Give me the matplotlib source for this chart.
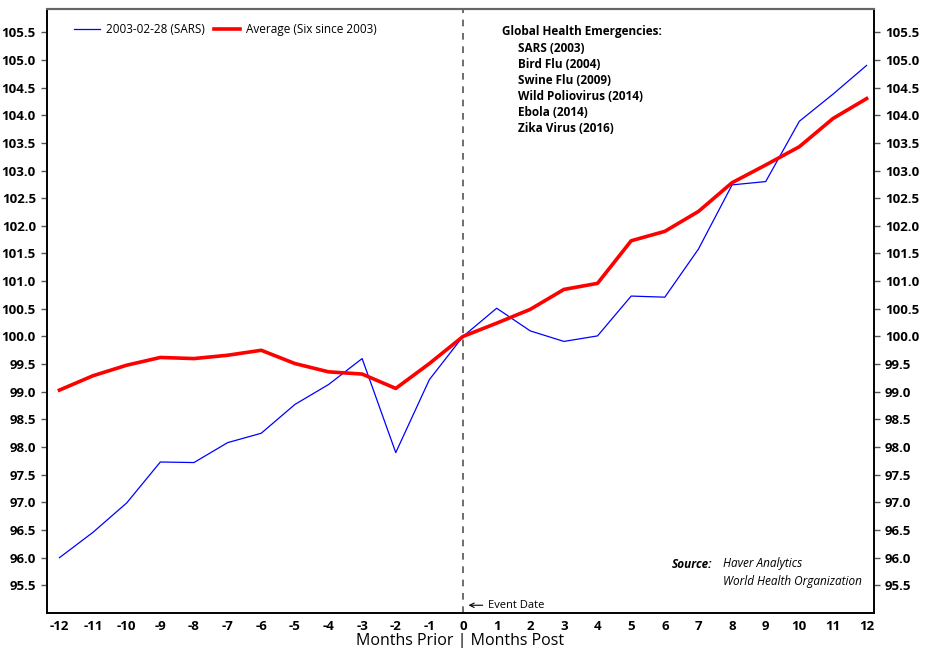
import matplotlib
matplotlib.use("Agg")
import matplotlib.pyplot as plt

plt.rcParams["font.family"] = ["Open Sans", "DejaVu Sans"]
plt.rcParams["axes.unicode_minus"] = False

MONTHS = list(range(-12, 13))
SARS = [96.00, 96.46, 96.99, 97.73, 97.72, 98.08, 98.25, 98.77, 99.13, 99.60, 97.90, 99.22,
        100.00, 100.51, 100.10, 99.91, 100.01, 100.73, 100.71, 101.58, 102.74, 102.80,
        103.89, 104.38, 104.90]
AVERAGE = [99.03, 99.29, 99.48, 99.62, 99.60, 99.66, 99.75, 99.51, 99.36, 99.32, 99.06, 99.51,
           100.00, 100.24, 100.49, 100.85, 100.96, 101.73, 101.90, 102.26, 102.78, 103.10,
           103.43, 103.94, 104.30]
YTICKS = [95.5 + 0.5 * i for i in range(21)]
EMERGENCIES = ["SARS (2003)", "Bird Flu (2004)", "Swine Flu (2009)",
               "Wild Poliovirus (2014)", "Ebola (2014)", "Zika Virus (2016)"]

fig = plt.figure(figsize=(9.25, 6.48), dpi=100)
ax = fig.add_axes([47 / 925, 35 / 648, 827 / 925, 604 / 648])

ax.plot(MONTHS, SARS, color="#0000ff", lw=0.9, label="2003-02-28 (SARS)")
ax.plot(MONTHS, AVERAGE, color="#ff0000", lw=2.6, label="Average (Six since 2003)")
ax.axvline(0, color="#555555", lw=1.2, ls=(0, (4, 4)))

ax.set_xlim(-12.37, 12.22)
ax.set_ylim(95.0, 105.92)
ax.set_xticks(MONTHS)
ax.set_yticks(YTICKS)
ax.set_yticklabels([f"{v:.1f}" for v in YTICKS])

ax2 = ax.twinx()
ax2.set_ylim(ax.get_ylim())
ax2.set_yticks(YTICKS)
ax2.set_yticklabels([f"{v:.1f}" for v in YTICKS])

for a in (ax, ax2):
    a.tick_params(axis="y", length=4, width=1, color="#555555", pad=4,
                  labelsize=9.5)
    for lab in a.get_yticklabels():
        lab.set_fontweight("bold")
    for side in ("left", "right", "bottom"):
        a.spines[side].set_color("black")
        a.spines[side].set_linewidth(1.2)
    a.spines["top"].set_color("#666666")
    a.spines["top"].set_linewidth(1.5)

ax.tick_params(axis="x", length=0, pad=5, labelsize=9.5)
for lab in ax.get_xticklabels():
    lab.set_fontweight("bold")

ax.set_xlabel("Months Prior | Months Post", fontsize=11.5, labelpad=0)

ax.legend(loc="upper left", bbox_to_anchor=(0.02, 0.995), ncol=2, frameon=False,
          fontsize=8.5, handlelength=2.2, columnspacing=0.8, handletextpad=0.5)

ax.annotate("Event Date", xy=(0.08, 95.14), xytext=(0.75, 95.14),
            fontsize=8, va="center", ha="left",
            arrowprops=dict(arrowstyle="->", color="black", lw=0.8))

fig.text(502 / 925, 1 - 32 / 648, "Global Health Emergencies:", fontsize=8.5,
         fontweight="bold", va="center", ha="left")
for i, name in enumerate(EMERGENCIES):
    fig.text(518 / 925, 1 - (48 + 16 * i) / 648, name, fontsize=8.5,
             fontweight="bold", va="center", ha="left")

fig.text(712 / 925, 1 - 564 / 648, "Source:", fontsize=8.5, fontweight="bold",
         style="italic", va="center", ha="right")
fig.text(723 / 925, 1 - 564 / 648, "Haver Analytics", fontsize=8.5,
         style="italic", va="center", ha="left")
fig.text(723 / 925, 1 - 582 / 648, "World Health Organization", fontsize=8.5,
         style="italic", va="center", ha="left")

fig.savefig("out.png", dpi=100)
